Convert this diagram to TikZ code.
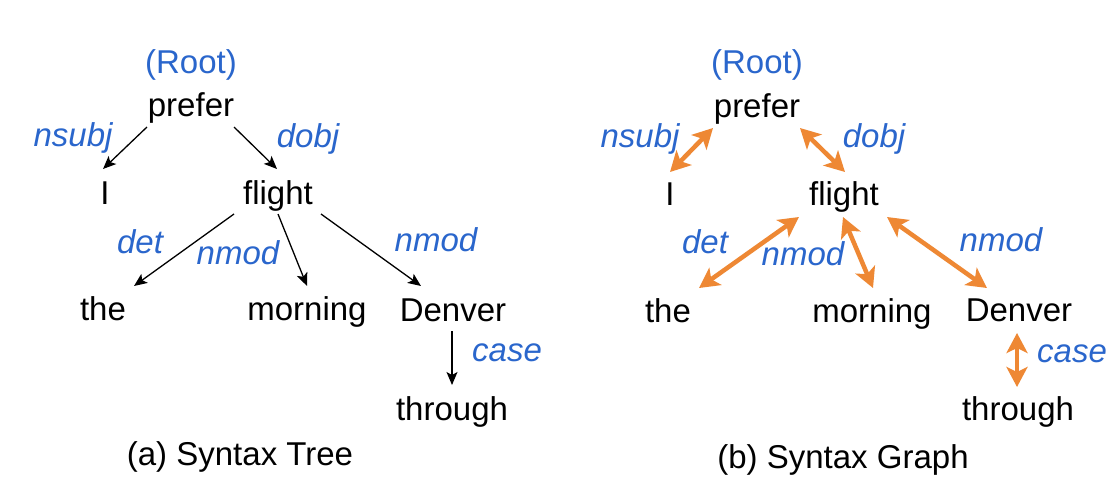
\documentclass[tikz,border=0pt]{standalone}
\usepackage{fontspec}
\setmainfont{Liberation Sans}
\usetikzlibrary{arrows.meta,calc}
\definecolor{lblblue}{RGB}{42,102,204}
\definecolor{arrorange}{RGB}{238,136,52}
\begin{document}
\begin{tikzpicture}[x=1pt,y=-1pt,
  word/.style={anchor=base,inner sep=0pt,font=\fontsize{33}{40}\selectfont},
  rel/.style={anchor=base,inner sep=0pt,text=lblblue,font=\fontsize{33}{40}\selectfont\itshape},
  rootlbl/.style={anchor=base,inner sep=0pt,text=lblblue,font=\fontsize{33}{40}\selectfont},
  tarrow/.style={draw=black,line width=1.3pt,-{Stealth[length=13pt,width=11pt,inset=3pt]}},
  garrow/.style={draw=arrorange,line width=4.5pt,{Stealth[length=20pt,width=21pt,inset=5pt]}-{Stealth[length=20pt,width=21pt,inset=5pt]}}
]
\useasboundingbox (0,0) rectangle (1118,498);
\fill[white] (0,0) rectangle (1118,498);

% ---------- (a) Syntax Tree ----------
\node[rootlbl] (aroot) at (191,73) {(Root)};
\node[word] (aprefer) at (191,116) {prefer};
\node[word] (aI) at (105,204) {I};
\node[word] (aflight) at (278,204) {flight};
\node[word] (athe) at (103,320) {the};
\node[word] (amorning) at (307,320) {morning};
\node[word] (aDenver) at (453,321) {Denver};
\node[word] (athrough) at (452,420) {through};
\node[rel] (ansubj) at (73,146) {nsubj};
\node[rel] (adobj) at (308,147) {dobj};
\node[rel] (adet) at (140,253) {det};
\node[rel] (anmodA) at (238,264) {nmod};
\node[rel] (anmodB) at (436,251) {nmod};
\node[rel] (acase) at (507,361) {case};
\node[word] (acap) at (240,465) {(a) Syntax Tree};

\draw[tarrow] ($(aprefer.base)+(-44,11)$) -- ($(aI.base)+(-2,-35)$);
\draw[tarrow] ($(aprefer.base)+(43,11)$) -- ($(aflight.base)+(-1,-35)$);
\draw[tarrow] ($(aflight.base)+(-44,10)$) -- ($(athe.base)+(31,-34)$);
\draw[tarrow] ($(aflight.base)+(0,10)$) -- ($(amorning.base)+(0,-34)$);
\draw[tarrow] ($(aflight.base)+(43,10)$) -- ($(aDenver.base)+(-32,-35)$);
\draw[tarrow] ($(aDenver.base)+(-1,10)$) -- ($(athrough.base)+(0,-35)$);

% ---------- (b) Syntax Graph ----------
\node[rootlbl] (broot) at (757,73) {(Root)};
\node[word] (bprefer) at (757,117) {prefer};
\node[word] (bI) at (670,205) {I};
\node[word] (bflight) at (844,205) {flight};
\node[word] (bthe) at (668,322) {the};
\node[word] (bmorning) at (872,322) {morning};
\node[word] (bDenver) at (1019,321) {Denver};
\node[word] (bthrough) at (1018,420) {through};
\node[rel] (bnsubj) at (640,147) {nsubj};
\node[rel] (bdobj) at (874,147) {dobj};
\node[rel] (bdet) at (705,253) {det};
\node[rel] (bnmodA) at (803,265) {nmod};
\node[rel] (bnmodB) at (1001,251) {nmod};
\node[rel] (bcase) at (1072,362) {case};
\node[word] (bcap) at (843,468) {(b) Syntax Graph};

\draw[garrow] ($(bprefer.base)+(-44,11)$) -- ($(bI.base)+(0,-33)$);
\draw[garrow] ($(bprefer.base)+(43,11)$) -- ($(bflight.base)+(1,-33)$);
\draw[garrow] ($(bflight.base)+(-45,12)$) -- ($(bthe.base)+(31,-34)$);
\draw[garrow] ($(bflight.base)+(-1,12)$) -- ($(bmorning.base)+(1,-34)$);
\draw[garrow] ($(bflight.base)+(43,12)$) -- ($(bDenver.base)+(-32,-33)$);
\draw[garrow] ($(bDenver.base)+(-2,12)$) -- ($(bthrough.base)+(-1,-33)$);
\end{tikzpicture}
\end{document}
